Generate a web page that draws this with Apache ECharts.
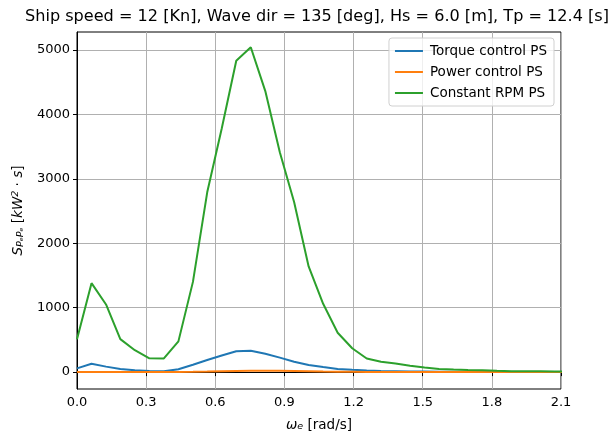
<!DOCTYPE html>
<html>
<head>
<meta charset="utf-8">
<script src="https://cdn.jsdelivr.net/npm/echarts@6/dist/echarts.min.js"></script>
<style>html,body{margin:0;padding:0;background:#fff}#c{width:615px;height:437px}</style>
</head>
<body>
<div id="c"></div>
<script>
const titleText = 'Ship speed = 12 [Kn], Wave dir = 135 [deg], Hs = 6.0 [m], Tp = 12.4 [s]';
const omega = [0, 0.063, 0.126, 0.188, 0.251, 0.314, 0.377, 0.440, 0.503, 0.565, 0.628, 0.691, 0.754, 0.817, 0.880, 0.942, 1.005, 1.068, 1.131, 1.194, 1.257, 1.319, 1.382, 1.445, 1.508, 1.571, 1.634, 1.696, 1.759, 1.822, 1.885, 1.948, 2.011, 2.073, 2.136];
const torquePS = [58, 130, 85, 50, 30, 18, 15, 45, 115, 187, 258, 325, 330, 285, 225, 160, 110, 78, 50, 35, 25, 18, 14, 10, 8, 6, 5, 4, 3, 3, 2, 2, 2, 2, 2];
const powerPS = [2, 3, 3, 2, 1, 1, 1, 2, 5, 9, 14, 19, 22, 22, 21, 18, 14, 10, 7, 5, 3, 2, 2, 1, 1, 1, 1, 1, 1, 1, 1, 1, 1, 1, 1];
const constRPM = [510, 1380, 1050, 512, 340, 215, 212, 477, 1400, 2790, 3780, 4830, 5040, 4360, 3410, 2640, 1640, 1060, 610, 370, 212, 160, 133, 100, 70, 50, 40, 32, 28, 20, 15, 12, 12, 11, 10];
const seriesNames = ['Torque control PS', 'Power control PS', 'Constant RPM PS'];
const colors = ['#1f77b4', '#ff7f0e', '#2ca02c'];
const xTicks = [0, 0.3, 0.6, 0.9, 1.2, 1.5, 1.8, 2.1];
const yTicks = [0, 1000, 2000, 3000, 4000, 5000];

const pair = arr => omega.map((w, i) => [w, arr[i]]);
const font = 'DejaVu Sans';
const chart = echarts.init(document.getElementById('c'), null, {renderer: 'canvas'});
chart.setOption({
  animation: false,
  backgroundColor: '#fff',
  textStyle: {fontFamily: font},
  title: {
    text: titleText, left: 20, top: 4,
    textStyle: {fontFamily: font, fontSize: 16.1, fontWeight: 'normal', color: '#000'}
  },
  grid: {left: 77, right: 54, top: 32, bottom: 45, show: true, borderColor: '#000', borderWidth: 1, backgroundColor: 'transparent'},
  legend: {
    orient: 'vertical', right: 61, top: 38,
    data: seriesNames,
    icon: 'rect', itemWidth: 28, itemHeight: 2, itemGap: 7,
    padding: [6, 7, 6, 6],
    borderColor: '#d0d0d0', borderWidth: 1, borderRadius: 3, backgroundColor: 'rgba(255,255,255,0.8)',
    textStyle: {fontFamily: font, fontSize: 13.5, color: '#000', padding: [0, 0, 0, 2]}
  },
  xAxis: {
    type: 'value', min: 0, max: 2.1, interval: 0.3,
    name: '{w|ω}{s|e} [rad/s]', nameLocation: 'middle', nameGap: 29,
    nameTextStyle: {fontFamily: font, fontSize: 13.5, color: '#000',
      rich: {w: {fontFamily: font, fontSize: 13.5, fontStyle: 'italic', color: '#000'},
             s: {fontFamily: font, fontSize: 9.5, fontStyle: 'italic', color: '#000', verticalAlign: 'bottom', padding: [4, 0, 0, 0]}}},
    axisLine: {show: true, lineStyle: {color: '#000', width: 1}},
    axisTick: {show: true, length: 4, lineStyle: {color: '#000'}},
    axisLabel: {fontFamily: font, fontSize: 13, color: '#000', margin: 7, formatter: v => v.toFixed(1)},
    splitLine: {show: true, lineStyle: {color: '#b0b0b0', width: 1}}
  },
  yAxis: {
    type: 'value', min: -262, max: 5277,
    axisLabel: {fontFamily: font, fontSize: 13, color: '#000', margin: 7, customValues: yTicks, formatter: v => String(v)},
    axisTick: {show: true, length: 4, lineStyle: {color: '#000'}, customValues: yTicks},
    axisLine: {show: true, lineStyle: {color: '#000', width: 1}},
    splitLine: {show: true, lineStyle: {color: '#b0b0b0', width: 1}},
    name: '{i|S}{s|PₑPₑ} [{i|kW}{p|2}{n| · }{i|s}]', nameLocation: 'middle', nameGap: 51, nameRotate: 90,
    nameTextStyle: {fontFamily: font, fontSize: 13.5, color: '#000',
      rich: {i: {fontFamily: font, fontSize: 13.5, fontStyle: 'italic', color: '#000'},
             n: {fontFamily: font, fontSize: 13.5, color: '#000'},
             s: {fontFamily: font, fontSize: 9.5, fontStyle: 'italic', color: '#000', verticalAlign: 'bottom', padding: [5, 0, 0, 0]},
             p: {fontFamily: font, fontSize: 9.5, fontStyle: 'italic', color: '#000', verticalAlign: 'top', padding: [0, 0, 5, 0]}}}
  },
  series: [
    {name: seriesNames[0], type: 'line', data: pair(torquePS), showSymbol: false, symbol: 'none', lineStyle: {color: colors[0], width: 2}, itemStyle: {color: colors[0]}},
    {name: seriesNames[1], type: 'line', data: pair(powerPS), showSymbol: false, symbol: 'none', lineStyle: {color: colors[1], width: 2}, itemStyle: {color: colors[1]}},
    {name: seriesNames[2], type: 'line', data: pair(constRPM), showSymbol: false, symbol: 'none', lineStyle: {color: colors[2], width: 2}, itemStyle: {color: colors[2]}}
  ]
});
</script>
</body>
</html>
